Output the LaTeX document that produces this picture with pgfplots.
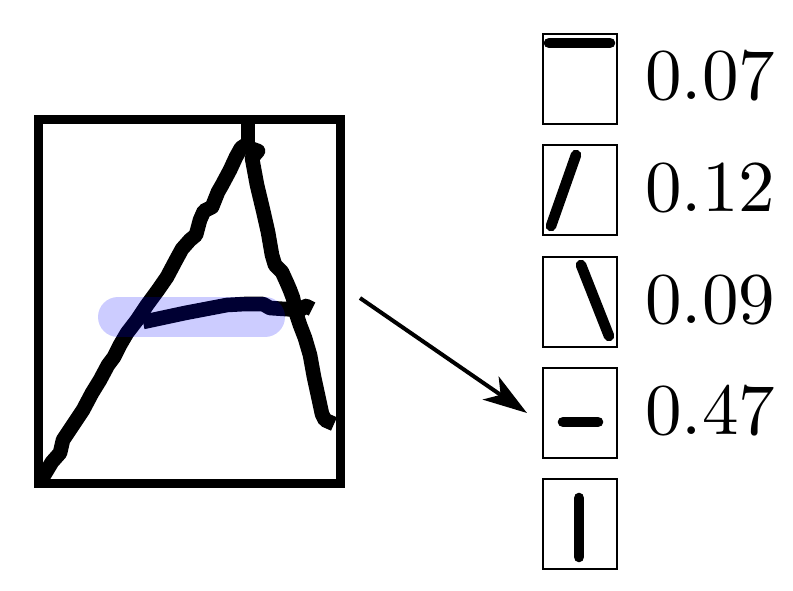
\documentclass[border=0pt]{standalone}
\usepackage{fontspec}
\newfontfamily\lmten[Extension=.otf]{lmroman10-regular}
\usepackage{pgfplots}
\pgfplotsset{compat=1.18}
\usetikzlibrary{arrows.meta}
\begin{document}
\begin{tikzpicture}
\begin{axis}[x=0.5pt, y=0.5pt, xmin=0, xmax=793, ymin=0, ymax=590,
  y dir=reverse, hide axis, clip=false, enlargelimits=false]
% big frame
\addplot[black, line width=4.5pt, line join=miter] coordinates {
  (190,119.5) (340.5,119.5) (340.5,483.5) (38,483.5) (38,119.5) (195,119.5)};
% left stroke of A
\addplot[black, line width=7.3pt, line join=round, line cap=round] coordinates {
  (43,477) (52,462) (60,453) (63,440) (75,422) (83,410) (92,393) (100,380)
  (108,365) (114,357) (120,345) (127,333) (137,320) (147,305) (158,290)
  (167,277) (176,260) (182,249) (190,240) (196,235) (200,220) (204,211)
  (212,207) (218,192) (222,185) (230,170) (236,157) (241,148) (247,144)};
% top stub
\addplot[black, line width=7pt] coordinates {(248,121) (248,146)};
% right stroke of A
\addplot[black, line width=7.3pt, line join=round] coordinates {
  (244,146) (258,151) (252,158) (257,185) (263,210) (268,232) (272,255)
  (275,265) (282,272) (287,283) (290,290) (293,298) (296,313) (300,325)
  (305,338) (310,355) (314,377) (319,400) (322,414) (325,420) (334,424)};
% cross bar
\addplot[black, line width=7.3pt, line join=round] coordinates {
  (143,322) (185,313) (227,305) (245,304) (263,304) (270,308) (285,309)
  (300,310) (306,306) (312,309)};
% highlight
\addplot[blue, opacity=0.2, line width=20pt, line cap=round] coordinates {
  (118,317) (265,317)};
% arrow
\addplot[black, line width=2pt, -{Stealth[length=22pt,width=14pt,inset=6pt]}] coordinates {
  (360,298) (527,413)};
% small boxes
\addplot[black, line width=1pt, line join=miter] coordinates {
  (580,34) (617,34) (617,124) (543,124) (543,34) (585,34)};
\addplot[black, line width=1pt, line join=miter] coordinates {
  (580,145.3) (617,145.3) (617,235.3) (543,235.3) (543,145.3) (585,145.3)};
\addplot[black, line width=1pt, line join=miter] coordinates {
  (580,256.6) (617,256.6) (617,346.6) (543,346.6) (543,256.6) (585,256.6)};
\addplot[black, line width=1pt, line join=miter] coordinates {
  (580,367.9) (617,367.9) (617,457.9) (543,457.9) (543,367.9) (585,367.9)};
\addplot[black, line width=1pt, line join=miter] coordinates {
  (580,479.2) (617,479.2) (617,569.2) (543,569.2) (543,479.2) (585,479.2)};
% strokes inside the boxes
\addplot[black, line width=5.3pt, line cap=round] coordinates {(549,43) (610,43)};
\addplot[black, line width=5.3pt, line cap=round] coordinates {(551,226) (576,155)};
\addplot[black, line width=5.3pt, line cap=round] coordinates {(581,265) (609,336)};
\addplot[black, line width=5.3pt, line cap=round] coordinates {(563,422) (598,422)};
\addplot[black, line width=5.3pt, line cap=round] coordinates {(579,498) (579,557)};
% values
\node[anchor=west, inner sep=0pt, font=\lmten\fontsize{36.5}{40}\selectfont] at (axis cs:645,76) {0.07};
\node[anchor=west, inner sep=0pt, font=\lmten\fontsize{36.5}{40}\selectfont] at (axis cs:645,188) {0.12};
\node[anchor=west, inner sep=0pt, font=\lmten\fontsize{36.5}{40}\selectfont] at (axis cs:645,299.5) {0.09};
\node[anchor=west, inner sep=0pt, font=\lmten\fontsize{36.5}{40}\selectfont] at (axis cs:645,411) {0.47};
\end{axis}
\pgfresetboundingbox
\path[use as bounding box] (current axis.south west) rectangle (current axis.north east);
\end{tikzpicture}
\end{document}
